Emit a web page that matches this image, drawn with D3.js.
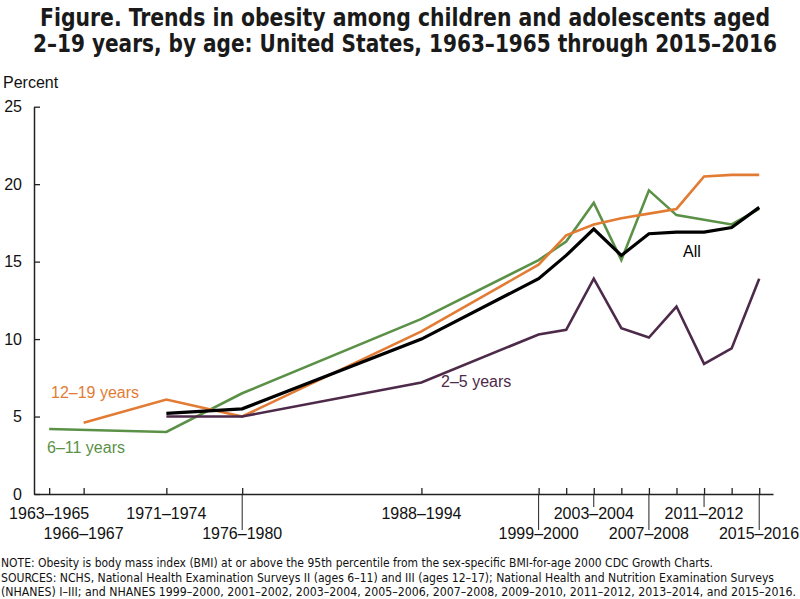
<!DOCTYPE html>
<html>
<head>
<meta charset="utf-8">
<script src="https://cdn.jsdelivr.net/npm/d3@7"></script>
<style>
  html, body { margin: 0; padding: 0; background: #fff; }
  svg { display: block; }
  text { font-family: "Liberation Sans", Arial, sans-serif; }
  .narrow { font-family: "Liberation Sans Narrow", "DejaVu Sans Condensed", "Arial Narrow", sans-serif; }
</style>
</head>
<body>
<svg id="chart" width="800" height="599"></svg>
<script>
// ---------- data ----------
const periods = ["1963–1965","1966–1967","1971–1974","1976–1980","1988–1994","1999–2000","2001–2002",
                 "2003–2004","2005–2006","2007–2008","2009–2010","2011–2012","2013–2014","2015–2016"];
const allAges   = [null, null, 5.2, 5.5, 10.0, 13.9, 15.4, 17.1, 15.4, 16.8, 16.9, 16.9, 17.2, 18.5];
const ages2to5  = [null, null, 5.0, 5.0, 7.2, 10.3, 10.6, 13.9, 10.7, 10.1, 12.1, 8.4, 9.4, 13.9];
const ages6to11 = [4.2, null, 4.0, 6.5, 11.3, 15.1, 16.3, 18.8, 15.1, 19.6, 18.0, 17.7, 17.4, 18.4];
const ages12to19= [null, 4.6, 6.1, 5.0, 10.5, 14.8, 16.7, 17.4, 17.8, 18.1, 18.4, 20.5, 20.6, 20.6];
const yTicks = [0, 5, 10, 15, 20, 25];
const labelRow1 = ["1963–1965","1971–1974","1988–1994","2003–2004","2011–2012"];
const labelRow2 = ["1966–1967","1976–1980","1999–2000","2007–2008","2015–2016"];
const titleLines = ["Figure. Trends in obesity among children and adolescents aged",
                    "2–19 years, by age: United States, 1963–1965 through 2015–2016"];
const noteLines = [
  "NOTE: Obesity is body mass index (BMI) at or above the 95th percentile from the sex-specific BMI-for-age 2000 CDC Growth Charts.",
  "SOURCES: NCHS, National Health Examination Surveys II (ages 6–11) and III (ages 12–17); National Health and Nutrition Examination Surveys",
  "(NHANES) I–III; and NHANES 1999–2000, 2001–2002, 2003–2004, 2005–2006, 2007–2008, 2009–2010, 2011–2012, 2013–2014, and 2015–2016."
];

// midpoint year of each survey period, from its label
const mids = periods.map(p => { const [a, b] = p.split("–").map(Number); return (a + b) / 2; });

const svg = d3.select("#chart");
const x = d3.scaleLinear().domain([1962.9, 2016.5]).range([34, 773]);
const y = d3.scaleLinear().domain([0, 25]).range([494, 106.7]);

// ---------- title ----------
svg.selectAll("text.title").data(titleLines).join("text")
  .attr("class", "title narrow")
  .attr("x", 405).attr("y", (d, i) => 26 + i * 26)
  .attr("text-anchor", "middle")
  .attr("font-weight", "bold").attr("font-size", 24).attr("fill", "#1a1a1a")
  .attr("textLength", (d, i) => i === 0 ? 730 : 744)
  .attr("lengthAdjust", "spacingAndGlyphs")
  .text(d => d);

// ---------- axes ----------
const axisColor = "#222";
const gy = svg.append("g").attr("transform", "translate(34,0)")
  .call(d3.axisLeft(y).tickValues(yTicks).tickSizeInner(-6).tickSizeOuter(0).tickPadding(12));
gy.select(".domain").attr("stroke", axisColor).attr("stroke-width", 1.5);
gy.selectAll(".tick line").attr("stroke", axisColor).attr("stroke-width", 1.3);
gy.selectAll(".tick text").attr("font-size", 16).attr("fill", "#111")
  .attr("font-family", "'Liberation Sans', Arial, sans-serif");

const gx = svg.append("g").attr("transform", "translate(0,494)")
  .call(d3.axisBottom(x).tickValues(mids).tickSizeInner(-6).tickSizeOuter(0).tickFormat(""));
gx.select(".domain").attr("stroke", axisColor).attr("stroke-width", 1.5);
gx.selectAll(".tick line").attr("stroke", axisColor).attr("stroke-width", 1.3);

svg.append("text").attr("x", 3).attr("y", 87.5).attr("font-size", 16).attr("fill", "#111").text("Percent");

// x labels
const midOf = p => mids[periods.indexOf(p)];
svg.selectAll("text.xl1").data(labelRow1).join("text")
  .attr("class", "xl1").attr("x", d => x(midOf(d))).attr("y", 519)
  .attr("text-anchor", "middle").attr("font-size", 16).attr("fill", "#111").text(d => d);
svg.selectAll("text.xl2").data(labelRow2).join("text")
  .attr("class", "xl2").attr("x", d => Math.min(x(midOf(d)), 759)).attr("y", 539)
  .attr("text-anchor", "middle").attr("font-size", 16).attr("fill", "#111").text(d => d);

// leader lines from axis to labels
const shortLeaders = ["2003–2004", "2011–2012"];
const longLeaders = ["1976–1980", "1999–2000", "2007–2008", "2015–2016"];
svg.selectAll("line.ls").data(shortLeaders).join("line")
  .attr("x1", d => x(midOf(d))).attr("x2", d => x(midOf(d)))
  .attr("y1", 494).attr("y2", 507).attr("stroke", axisColor).attr("stroke-width", 1);
svg.selectAll("line.ll").data(longLeaders).join("line")
  .attr("x1", d => x(midOf(d))).attr("x2", d => x(midOf(d)))
  .attr("y1", 494).attr("y2", 530).attr("stroke", axisColor).attr("stroke-width", 1);

// ---------- lines ----------
const series = [
  { name: "6–11 years",  values: ages6to11,  color: "#5b9147", width: 2.6 },
  { name: "12–19 years", values: ages12to19, color: "#e27c35", width: 2.6 },
  { name: "2–5 years",   values: ages2to5,   color: "#4d2a4a", width: 2.6 },
  { name: "All",         values: allAges,    color: "#000000", width: 3.2 }
];
const line = d3.line()
  .defined(d => d.v != null)
  .x(d => x(d.m)).y(d => y(d.v));
svg.selectAll("path.series").data(series).join("path")
  .attr("class", "series")
  .attr("fill", "none")
  .attr("stroke", d => d.color)
  .attr("stroke-width", d => d.width)
  .attr("stroke-linejoin", "miter")
  .attr("d", d => line(d.values.map((v, i) => ({ v, m: mids[i] })).filter(p => p.v != null)));

// series labels
const seriesLabels = [
  { text: "12–19 years", color: "#e27c35", x: 51, y: 398 },
  { text: "6–11 years",  color: "#5b9147", x: 47, y: 453 },
  { text: "2–5 years",   color: "#4d2a4a", x: 441, y: 387 },
  { text: "All",         color: "#000000", x: 683, y: 257 }
];
svg.selectAll("text.sl").data(seriesLabels).join("text")
  .attr("class", "sl").attr("x", d => d.x).attr("y", d => d.y)
  .attr("font-size", 16).attr("fill", d => d.color).text(d => d.text);

// ---------- notes ----------
svg.selectAll("text.note").data(noteLines).join("text")
  .attr("class", "note narrow")
  .attr("x", 1).attr("y", (d, i) => 567 + i * 14.5)
  .attr("font-size", 12.5).attr("fill", "#111")
  .attr("textLength", (d, i) => [712, 773, 795][i])
  .attr("lengthAdjust", "spacingAndGlyphs")
  .text(d => d);
</script>
</body>
</html>
